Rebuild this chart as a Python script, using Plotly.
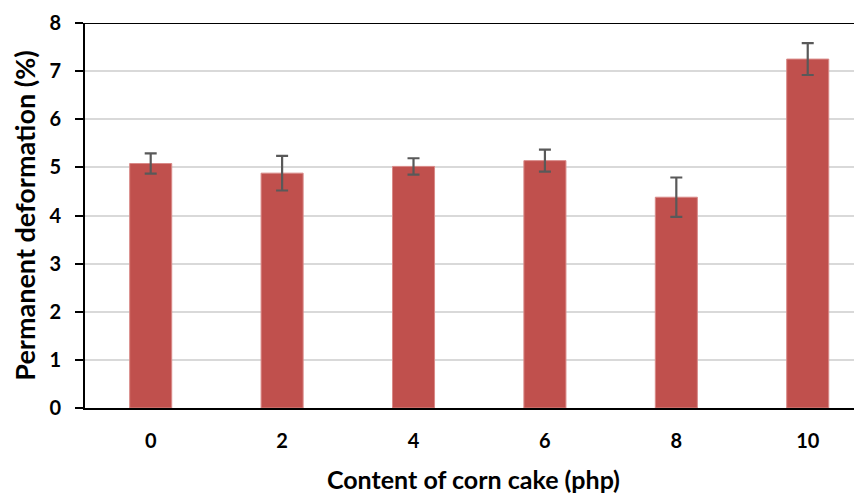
import plotly.graph_objects as go

categories = ["0", "2", "4", "6", "8", "10"]
values = [5.08, 4.88, 5.02, 5.14, 4.38, 7.25]
errors = [0.21, 0.36, 0.17, 0.23, 0.41, 0.33]
y_ticks = [0, 1, 2, 3, 4, 5, 6, 7, 8]

FONT = "Lato"

fig = go.Figure()
fig.add_trace(go.Bar(
    x=categories, y=values,
    marker=dict(color="#c0504d", line=dict(color="#d98a88", width=1)),
    width=0.32,
    error_y=dict(type="data", array=errors, visible=True,
                 color="#595959", thickness=2.2, width=6),
))

fig.update_layout(
    width=854, height=486,
    margin=dict(l=77, r=0, t=15, b=86),
    paper_bgcolor="white", plot_bgcolor="white",
    showlegend=False,
    font=dict(family=FONT, color="black"),
    xaxis=dict(
        type="category", range=[-0.5, 5.413], automargin=False,
        showline=True, linecolor="black", linewidth=2,
        ticks="", showgrid=False,
        tickfont=dict(size=20, family=FONT, weight="bold"),
        ticklabelstandoff=14,
        title=dict(text="<b>Content of corn cake (php)</b>", font=dict(size=25, family=FONT), standoff=31),
    ),
    yaxis=dict(
        range=[0, 8], tickvals=y_ticks, automargin=False,
        showline=True, linecolor="black", linewidth=2,
        ticks="outside", ticklen=8, tickwidth=2, tickcolor="black",
        showgrid=True, gridcolor="#d9d9d9", gridwidth=1.5,
        zeroline=False,
        tickfont=dict(size=20, family=FONT, weight="bold"),
        ticklabelstandoff=10,
        title=dict(text="<b>Permanent deformation (%)</b>", font=dict(size=27, family=FONT), standoff=10),
    ),
)
fig.add_shape(type="line", xref="paper", yref="y", x0=0, x1=1, y0=8, y1=8,
              line=dict(color="black", width=2))

fig.write_html("out.html")
